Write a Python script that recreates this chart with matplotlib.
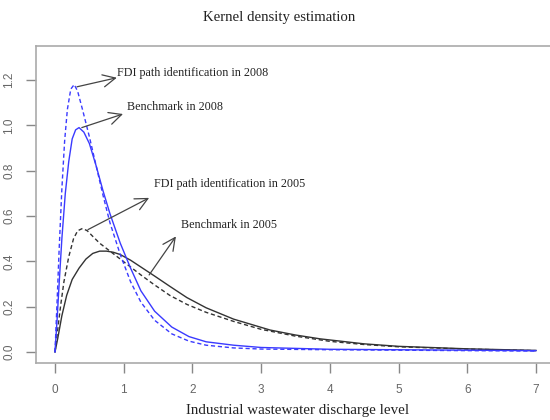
import matplotlib
matplotlib.use("Agg")
import matplotlib.pyplot as plt

# benchmark 2005 (black solid)
x_b05 = [0, 0.04, 0.1, 0.17, 0.25, 0.35, 0.45, 0.55, 0.65, 0.75, 0.85, 0.95, 1.1, 1.25, 1.45,
         1.67, 1.92, 2.2, 2.6, 3.13, 3.5, 3.86, 4.5, 5.0, 6.0, 7.0]
y_b05 = [0, 0.06, 0.16, 0.25, 0.32, 0.37, 0.41, 0.435, 0.445, 0.445, 0.44, 0.43, 0.405, 0.375, 0.335,
         0.29, 0.24, 0.195, 0.145, 0.097, 0.075, 0.058, 0.036, 0.025, 0.014, 0.007]

# FDI path identification 2005 (black dashed)
x_f05 = [0, 0.04, 0.08, 0.13, 0.2, 0.27, 0.33, 0.4, 0.47, 0.55, 0.65, 0.8, 0.95, 1.1, 1.25, 1.43,
         1.67, 1.92, 2.2, 2.6, 3.0, 3.5, 4.0, 4.5, 5.0, 6.0, 7.0]
y_f05 = [0, 0.1, 0.2, 0.31, 0.42, 0.5, 0.535, 0.545, 0.535, 0.51, 0.48, 0.445, 0.41, 0.375, 0.34, 0.30,
         0.25, 0.21, 0.175, 0.135, 0.10, 0.07, 0.047, 0.033, 0.023, 0.013, 0.006]

# benchmark 2008 (blue solid)
x_b08 = [0, 0.03, 0.06, 0.1, 0.15, 0.2, 0.25, 0.3, 0.35, 0.42, 0.5, 0.6, 0.7, 0.8, 0.95, 1.1, 1.25,
         1.45, 1.7, 1.95, 2.2, 2.6, 3.0, 4.0, 5.0, 6.0, 7.0]
y_b08 = [0, 0.14, 0.3, 0.5, 0.7, 0.84, 0.94, 0.98, 0.99, 0.97, 0.92, 0.82, 0.71, 0.61, 0.48, 0.37, 0.27,
         0.18, 0.11, 0.068, 0.045, 0.03, 0.02, 0.012, 0.01, 0.008, 0.006]

# FDI path identification 2008 (blue dashed)
x_f08 = [0, 0.03, 0.06, 0.1, 0.14, 0.18, 0.23, 0.28, 0.33, 0.4, 0.5, 0.6, 0.7, 0.8, 0.95, 1.1, 1.25,
         1.45, 1.7, 1.95, 2.2, 2.6, 3.0, 4.0, 5.0, 6.0, 7.0]
y_f08 = [0, 0.22, 0.45, 0.72, 0.93, 1.07, 1.16, 1.18, 1.15, 1.07, 0.95, 0.82, 0.69, 0.57, 0.43, 0.31, 0.22,
         0.14, 0.08, 0.048, 0.03, 0.018, 0.013, 0.01, 0.008, 0.006, 0.004]

labels = ["FDI path identification in 2008", "Benchmark in 2008",
          "FDI path identification in 2005", "Benchmark in 2005"]
arrow_from = [(0.32, 1.17), (0.39, 0.99), (0.48, 0.54), (1.37, 0.34)]
arrow_to = [(0.9, 1.21), (0.99, 1.05), (1.37, 0.68), (1.76, 0.51)]
text_at = [(0.9, 1.23), (1.05, 1.08), (1.44, 0.74), (1.84, 0.56)]

xticks = [0, 1, 2, 3, 4, 5, 6, 7]
yticks = [0.0, 0.2, 0.4, 0.6, 0.8, 1.0, 1.2]

serif = "Liberation Serif"

fig = plt.figure(figsize=(5.5, 4.2), dpi=100)
ax = fig.add_axes([36 / 550, 57 / 420, 524 / 550, 317 / 420])

ax.plot(x_b05, y_b05, color="#333333", lw=1.0)
ax.plot(x_f05, y_f05, color="#333333", lw=1.0, linestyle=(0, (3, 2)))
ax.plot(x_b08, y_b08, color="#3a3aff", lw=1.0)
ax.plot(x_f08, y_f08, color="#3a3aff", lw=1.0, linestyle=(0, (3, 2)))

for lab, a, b, t in zip(labels, arrow_from, arrow_to, text_at):
    ax.annotate("", xy=b, xytext=a,
                arrowprops=dict(arrowstyle="->,head_length=0.45,head_width=0.22",
                                color="#444444", lw=0.9, shrinkA=0, shrinkB=0,
                                mutation_scale=20))
    ax.text(t[0], t[1], lab, fontsize=8.7, family=serif, ha="left", va="center",
            color="#222222")

ax.set_xlim(-0.2765, 7.35)
ax.set_ylim(-0.0485, 1.35)
ax.set_xticks(xticks)
ax.set_yticks(yticks)
ax.set_xticklabels([str(v) for v in xticks], family="Liberation Sans", fontsize=8.5, color="#666666")
ax.set_yticklabels(["%.1f" % v for v in yticks], family="Liberation Sans", fontsize=8.5,
                   color="#666666", rotation=90, va="center")
ax.tick_params(length=7, width=1, color="#888888", pad=8)
for s in ax.spines.values():
    s.set_color("#aaaaaa")
    s.set_linewidth(1.2)

ax.set_xlabel("Industrial wastewater discharge level", family=serif, fontsize=10.8,
              color="#222222", labelpad=6)
fig.text(279 / 550, 1 - 18 / 420, "Kernel density estimation", family=serif,
         fontsize=10.6, ha="center", va="center", color="#222222")

fig.savefig("out.png", dpi=100)
